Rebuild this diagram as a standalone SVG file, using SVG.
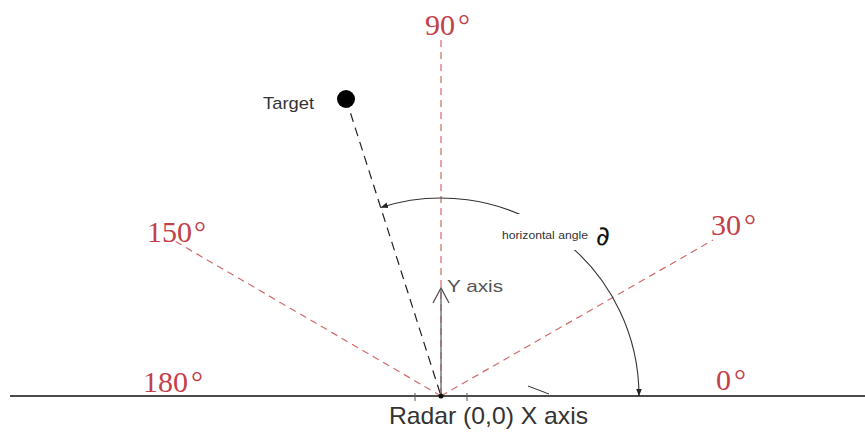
<svg xmlns="http://www.w3.org/2000/svg" width="865" height="435" viewBox="0 0 865 435">
<defs>
<style>
.red{fill:#c2404a;font-family:"Liberation Serif",serif;font-size:30px}
.rd{stroke:#d46a6a;stroke-width:1.2;stroke-dasharray:7 5;fill:none}
.sans{font-family:"Liberation Sans",Arial,sans-serif}
</style>
<marker id="ah" viewBox="0 0 10 10" refX="10" refY="5" markerWidth="7" markerHeight="7" orient="auto-start-reverse" markerUnits="userSpaceOnUse">
<path d="M0,1 L10,5 L0,9 Z" fill="#222"/>
</marker>
</defs>
<rect width="865" height="435" fill="#fff"/>
<g id="guides">
<line class="rd" x1="441" y1="40" x2="441" y2="396"/>
<line class="rd" x1="441" y1="396" x2="713" y2="240"/>
<line class="rd" x1="441" y1="396" x2="173" y2="240"/>
</g>
<g id="connectors">
<line x1="346" y1="99" x2="441" y2="396" stroke="#222" stroke-width="1.2" stroke-dasharray="9 6"/>
<path d="M380.8,207.4 A198,198 0 0 1 639,396" fill="none" stroke="#333" stroke-width="1.1" marker-start="url(#ah)" marker-end="url(#ah)"/>
<line x1="441" y1="396" x2="441" y2="288" stroke="#666" stroke-width="1.3"/>
<path d="M433,303 L441,288 L449,303" fill="none" stroke="#555" stroke-width="1.3"/>
<line x1="528" y1="386" x2="549" y2="394" stroke="#333" stroke-width="1"/>
</g>
<g id="axis">
<line x1="10" y1="396" x2="865" y2="396" stroke="#111" stroke-width="1.6"/>
<line x1="415" y1="393" x2="415" y2="401" stroke="#555" stroke-width="1"/>
<line x1="467" y1="393" x2="467" y2="401" stroke="#555" stroke-width="1"/>
<circle cx="441" cy="396" r="2.5" fill="#111"/>
</g>
<g id="target">
<circle cx="346" cy="99" r="9" fill="#000"/>
<text x="263" y="109" class="sans" font-size="17" fill="#333" textLength="51" lengthAdjust="spacingAndGlyphs">Target</text>
</g>
<g id="label-angle">
<rect x="500" y="214" width="116" height="36" fill="#fff"/>
<text x="502" y="239" class="sans" font-size="11.5" fill="#333" textLength="86" lengthAdjust="spacingAndGlyphs">horizontal angle</text>
<text x="596" y="245" font-family="DejaVu Sans,sans-serif" font-size="27" fill="#111">∂</text>
</g>
<g id="labels">
<text x="425" y="35" class="red">90<tspan dx="3">°</tspan></text>
<text x="147" y="242" class="red">150<tspan dx="2">°</tspan></text>
<text x="711" y="235" class="red">30<tspan dx="3">°</tspan></text>
<text x="143" y="392" class="red">180<tspan dx="3">°</tspan></text>
<text x="716" y="390" class="red">0<tspan dx="3">°</tspan></text>
<text x="447" y="292" class="sans" font-size="17" fill="#555" textLength="56" lengthAdjust="spacingAndGlyphs">Y axis</text>
<text x="389" y="424" class="sans" font-size="24" fill="#333" textLength="199" lengthAdjust="spacingAndGlyphs">Radar (0,0) X axis</text>
</g>
</svg>
